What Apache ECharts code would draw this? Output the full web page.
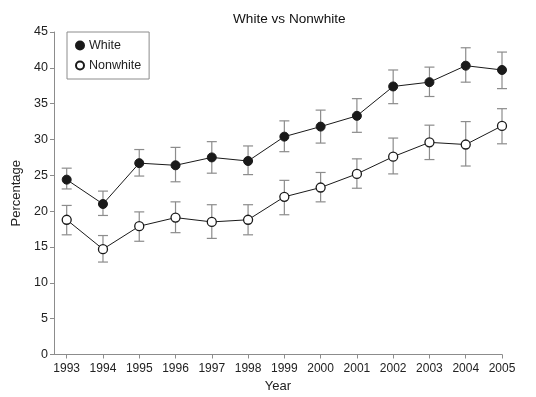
<!DOCTYPE html>
<html>
<head>
<meta charset="utf-8">
<script src="https://cdn.jsdelivr.net/npm/echarts@6/dist/echarts.min.js"></script>
<style>
  html, body { margin: 0; padding: 0; background: #fff; }
  #main { width: 536px; height: 397px; }
</style>
</head>
<body>
<div id="main"></div>
<script>
// data
var years = [1993, 1994, 1995, 1996, 1997, 1998, 1999, 2000, 2001, 2002, 2003, 2004, 2005];
var whiteMean = [24.4, 21.0, 26.7, 26.4, 27.5, 27.0, 30.4, 31.8, 33.3, 37.4, 38.0, 40.3, 39.7];
var whiteLow  = [23.1, 19.4, 24.9, 24.1, 25.3, 25.1, 28.3, 29.5, 31.0, 35.0, 36.0, 38.0, 37.1];
var whiteHigh = [26.0, 22.8, 28.6, 28.9, 29.7, 29.1, 32.6, 34.1, 35.7, 39.7, 40.1, 42.8, 42.2];
var nonwhiteMean = [18.8, 14.7, 17.9, 19.1, 18.5, 18.8, 22.0, 23.3, 25.2, 27.6, 29.6, 29.3, 31.9];
var nonwhiteLow  = [16.7, 12.9, 15.8, 17.0, 16.2, 16.7, 19.5, 21.3, 23.2, 25.2, 27.2, 26.3, 29.4];
var nonwhiteHigh = [20.8, 16.6, 19.9, 21.3, 20.9, 20.9, 24.3, 25.4, 27.3, 30.2, 32.0, 32.5, 34.3];
var yTicks = [0, 5, 10, 15, 20, 25, 30, 35, 40, 45];

var font = 'Liberation Sans, Arial, sans-serif';

function pairs(ys) {
  return years.map(function (y, i) { return [y, ys[i]]; });
}
function bars(lo, hi) {
  return years.map(function (y, i) { return [y, lo[i], hi[i]]; });
}

// error bar with caps
function errorBar(params, api) {
  var x = api.value(0);
  var lo = api.coord([x, api.value(1)]);
  var hi = api.coord([x, api.value(2)]);
  var cap = 5;
  var st = { stroke: '#8c8c8c', lineWidth: 1.2 };
  return {
    type: 'group',
    children: [
      { type: 'line', shape: { x1: lo[0], y1: lo[1], x2: hi[0], y2: hi[1] }, style: st },
      { type: 'line', shape: { x1: lo[0] - cap, y1: lo[1], x2: lo[0] + cap, y2: lo[1] }, style: st },
      { type: 'line', shape: { x1: hi[0] - cap, y1: hi[1], x2: hi[0] + cap, y2: hi[1] }, style: st }
    ]
  };
}

var chart = echarts.init(document.getElementById('main'), null, { renderer: 'canvas' });
chart.setOption({
  animation: false,
  backgroundColor: '#fff',
  textStyle: { fontFamily: font },
  title: {
    text: 'White vs Nonwhite',
    left: 228, top: 7,
    textStyle: { fontSize: 13.6, fontWeight: 'normal', color: '#111', fontFamily: font }
  },
  legend: {
    orient: 'vertical',
    left: 67, top: 32,
    padding: [7, 8, 7, 8],
    itemGap: 7,
    itemWidth: 8, itemHeight: 8,
    icon: 'circle',
    borderColor: '#8c8c8c', borderWidth: 1,
    data: ['White', 'Nonwhite'],
    textStyle: { fontSize: 12.5, color: '#222', fontFamily: font }
  },
  grid: { left: 54, right: 34, top: 32, bottom: 42.5, outerBoundsMode: 'none' },
  xAxis: {
    type: 'value',
    min: 1992.65, max: 2005,
    name: 'Year', nameLocation: 'middle', nameGap: 25,
    nameTextStyle: { fontSize: 13, color: '#222', fontFamily: font },
    axisLine: { lineStyle: { color: '#8c8c8c', width: 1 } },
    axisTick: { length: 4, lineStyle: { color: '#8c8c8c' }, customValues: years },
    axisLabel: {
      customValues: years, fontSize: 12, color: '#222', margin: 8, fontFamily: font,
      formatter: function (v) { return String(Math.round(v)); }
    },
    splitLine: { show: false }
  },
  yAxis: {
    type: 'value',
    min: 0, max: 45, interval: 5,
    name: 'Percentage', nameLocation: 'middle', nameGap: 31, nameRotate: 90,
    nameTextStyle: { fontSize: 13, color: '#222', fontFamily: font },
    axisLine: { show: true, lineStyle: { color: '#8c8c8c', width: 1 } },
    axisTick: { show: true, length: 4, lineStyle: { color: '#8c8c8c' }, customValues: yTicks },
    axisLabel: { customValues: yTicks, fontSize: 12.5, color: '#222', margin: 6, fontFamily: font },
    splitLine: { show: false }
  },
  series: [
    {
      name: 'White err', type: 'custom', renderItem: errorBar,
      data: bars(whiteLow, whiteHigh), z: 1, silent: true,
      encode: { x: 0, y: [1, 2] }
    },
    {
      name: 'Nonwhite err', type: 'custom', renderItem: errorBar,
      data: bars(nonwhiteLow, nonwhiteHigh), z: 1, silent: true,
      encode: { x: 0, y: [1, 2] }
    },
    {
      name: 'White', type: 'line', data: pairs(whiteMean), z: 3,
      symbol: 'circle', symbolSize: 9, showAllSymbol: true,
      lineStyle: { color: '#1a1a1a', width: 1 },
      itemStyle: { color: '#1a1a1a', borderColor: '#1a1a1a', borderWidth: 1 }
    },
    {
      name: 'Nonwhite', type: 'line', data: pairs(nonwhiteMean), z: 3,
      symbol: 'circle', symbolSize: 9, showAllSymbol: true,
      lineStyle: { color: '#1a1a1a', width: 1 },
      itemStyle: { color: '#fff', borderColor: '#1a1a1a', borderWidth: 1.3 }
    }
  ]
});
</script>
</body>
</html>
